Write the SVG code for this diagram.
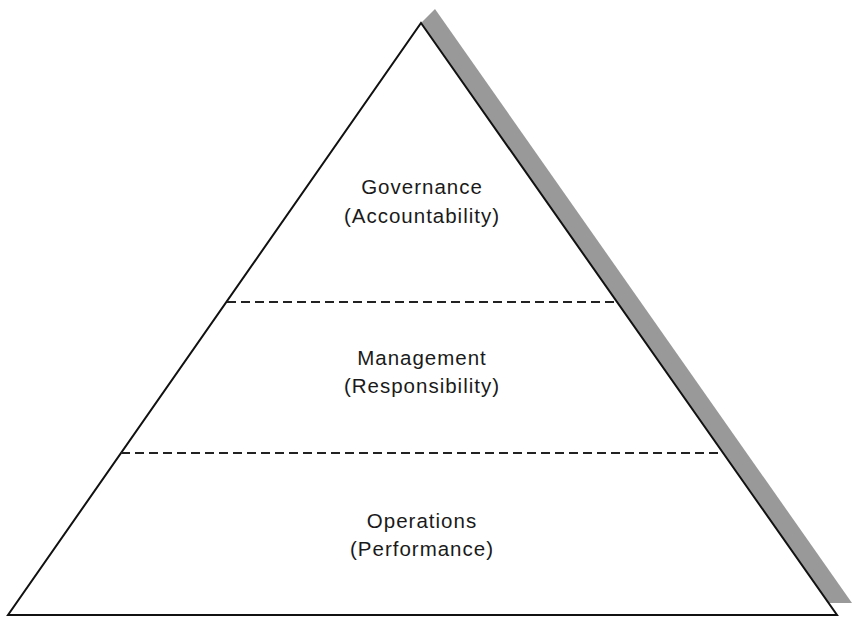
<svg xmlns="http://www.w3.org/2000/svg" width="852" height="617" viewBox="0 0 852 617">
<style>
.lbl{font-family:"Liberation Sans",Arial,sans-serif;font-size:20.5px;fill:#1a1a1a;text-anchor:middle;letter-spacing:1px}
.dash{stroke:#222;stroke-width:2;stroke-dasharray:9 5;fill:none}
</style>
<rect width="852" height="617" fill="#fff"/>
<g id="shadow"><polygon points="421,23 435,9 852,603 828,603" fill="#999"/></g>
<g id="pyramid"><polygon points="421,23 837,615 8,615" fill="#fff" stroke="#111" stroke-width="2" stroke-linejoin="miter"/></g>
<g id="connectors">
<line class="dash" x1="227" y1="302" x2="617" y2="302"/>
<line class="dash" x1="121" y1="453" x2="723" y2="453"/>
</g>
<g id="governance"><text class="lbl" x="422" y="194">Governance</text><text class="lbl" x="422" y="223">(Accountability)</text></g>
<g id="management"><text class="lbl" x="422" y="365">Management</text><text class="lbl" x="422" y="393">(Responsibility)</text></g>
<g id="operations"><text class="lbl" x="422" y="528">Operations</text><text class="lbl" x="422" y="556">(Performance)</text></g>
</svg>
